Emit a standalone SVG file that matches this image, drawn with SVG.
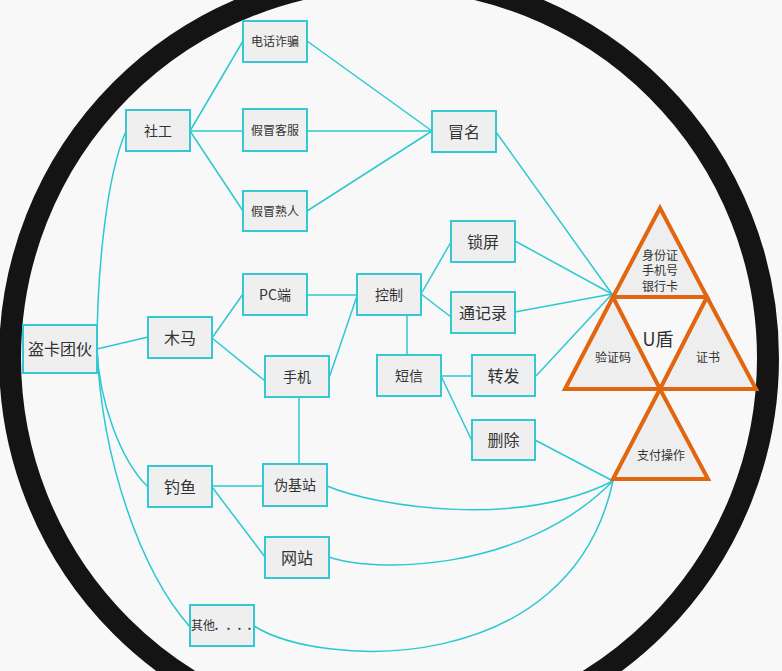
<svg xmlns="http://www.w3.org/2000/svg" width="782" height="671" viewBox="0 0 782 671">
<style>
.box rect{fill:#efefef;stroke:#33c8d2;stroke-width:2}
text{font-family:"Noto Sans CJK SC","Noto Sans",sans-serif;fill:#333;text-anchor:middle}
.t12{font-size:12px}.t14{font-size:14px}.t16{font-size:16px}
.conn path,.conn line{fill:none;stroke:#2cc8d2;stroke-width:1.5}
.tri polygon{fill:#eeeeee;stroke:#e2650f;stroke-width:4;stroke-linejoin:miter}
</style>
<rect x="0" y="0" width="782" height="671" fill="#f8f8f8"/>
<circle cx="389" cy="358" r="379" fill="none" stroke="#141414" stroke-width="22"/>
<g id="connectors" class="conn">
<line x1="190" y1="131" x2="243" y2="41"/>
<line x1="190" y1="131" x2="243" y2="131"/>
<line x1="190" y1="131" x2="243" y2="211"/>
<line x1="307" y1="41" x2="432" y2="131"/>
<line x1="307" y1="131" x2="432" y2="131"/>
<line x1="307" y1="211" x2="432" y2="131"/>
<line x1="496" y1="132" x2="612" y2="294"/>
<line x1="515" y1="241" x2="612" y2="294"/>
<line x1="515" y1="312" x2="612" y2="294"/>
<line x1="536" y1="376" x2="612" y2="294"/>
<line x1="535" y1="440" x2="613" y2="481"/>
<path d="M327,486 C380,508 520,528 613,481"/>
<path d="M329,557 C370,572 520,575 613,481"/>
<path d="M254,626 C320,668 570,680 613,481"/>
<line x1="212" y1="486" x2="263" y2="486"/>
<line x1="212" y1="487" x2="265" y2="557"/>
<line x1="212" y1="338" x2="243" y2="294"/>
<line x1="212" y1="338" x2="265" y2="381"/>
<line x1="307" y1="295" x2="357" y2="295"/>
<line x1="329" y1="378" x2="357" y2="296"/>
<line x1="299" y1="397" x2="299" y2="464"/>
<line x1="407" y1="315" x2="407" y2="355"/>
<line x1="421" y1="294" x2="451" y2="242"/>
<line x1="421" y1="294" x2="451" y2="317"/>
<line x1="441" y1="376" x2="472" y2="376"/>
<line x1="441" y1="376" x2="472" y2="441"/>
<line x1="97" y1="349" x2="148" y2="337"/>
<path d="M97,349 C97,280 105,180 126,131"/>
<path d="M97,349 C99,400 120,460 148,487"/>
<path d="M97,349 C102,460 140,570 190,627"/>
</g>
<g id="n-dianhua" class="box"><rect x="243" y="21" width="64" height="41"/><text class="t12" x="275" y="45.5">电话诈骗</text></g>
<g id="n-shegong" class="box"><rect x="126" y="110" width="64" height="41"/><text class="t14" x="158" y="135.5">社工</text></g>
<g id="n-kefu" class="box"><rect x="243" y="109" width="64" height="42"/><text class="t12" x="275" y="134.5">假冒客服</text></g>
<g id="n-shuren" class="box"><rect x="243" y="191" width="64" height="40"/><text class="t12" x="275" y="215.5">假冒熟人</text></g>
<g id="n-maoming" class="box"><rect x="432" y="111" width="64" height="41"/><text class="t16" x="464" y="137.5">冒名</text></g>
<g id="n-suoping" class="box"><rect x="451" y="221" width="64" height="41"/><text class="t16" x="483" y="247.5">锁屏</text></g>
<g id="n-tongjilu" class="box"><rect x="451" y="292" width="64" height="41"/><text class="t16" x="483" y="318.5">通记录</text></g>
<g id="n-kongzhi" class="box"><rect x="357" y="274" width="64" height="41"/><text class="t14" x="389" y="299.5">控制</text></g>
<g id="n-duanxin" class="box"><rect x="377" y="355" width="64" height="41"/><text class="t14" x="409" y="380.5">短信</text></g>
<g id="n-zhuanfa" class="box"><rect x="472" y="355" width="63" height="41"/><text class="t16" x="503.5" y="381.5">转发</text></g>
<g id="n-shanchu" class="box"><rect x="472" y="420" width="63" height="40"/><text class="t16" x="503.5" y="445.5">删除</text></g>
<g id="n-daoka" class="box"><rect x="23" y="325" width="74" height="48"/><text class="t16" x="60" y="354.5">盗卡团伙</text></g>
<g id="n-muma" class="box"><rect x="148" y="317" width="64" height="41"/><text class="t16" x="180" y="343.5">木马</text></g>
<g id="n-pc" class="box"><rect x="243" y="274" width="64" height="41"/><text class="t14" x="275" y="299.5">PC端</text></g>
<g id="n-shouji" class="box"><rect x="265" y="356" width="64" height="41"/><text class="t14" x="297" y="381.5">手机</text></g>
<g id="n-diaoyu" class="box"><rect x="148" y="466" width="64" height="41"/><text class="t16" x="180" y="492.5">钓鱼</text></g>
<g id="n-weijizhan" class="box"><rect x="263" y="464" width="64" height="42"/><text class="t14" x="295" y="490">伪基站</text></g>
<g id="n-wangzhan" class="box"><rect x="265" y="537" width="64" height="41"/><text class="t16" x="297" y="563.5">网站</text></g>
<g id="n-qita" class="box"><rect x="190" y="605" width="64" height="41"/><text class="t12" x="191" y="630" style="text-anchor:start">其他<tspan x="214.5" style="font-weight:bold">.</tspan><tspan x="226.5" style="font-weight:bold">.</tspan><tspan x="237.5" style="font-weight:bold">.</tspan><tspan x="247.5" style="font-weight:bold">.</tspan></text></g>
<g id="n-udun" class="tri">
<polygon points="660,208 613,297 707,297"/>
<polygon points="613,297 565,389 660,389"/>
<polygon points="707,297 660,389 756,389"/>
<polygon points="660,389 613,479 708,479"/>
<text class="t12" x="660" y="259.5">身份证</text>
<text class="t12" x="660" y="275">手机号</text>
<text class="t12" x="660" y="290.5">银行卡</text>
<text x="658" y="345.5" style="font-size:18px">U盾</text>
<text class="t12" x="613" y="361.5">验证码</text>
<text class="t12" x="708" y="361.5">证书</text>
<text class="t12" x="661" y="459.5">支付操作</text>
</g>
</svg>
